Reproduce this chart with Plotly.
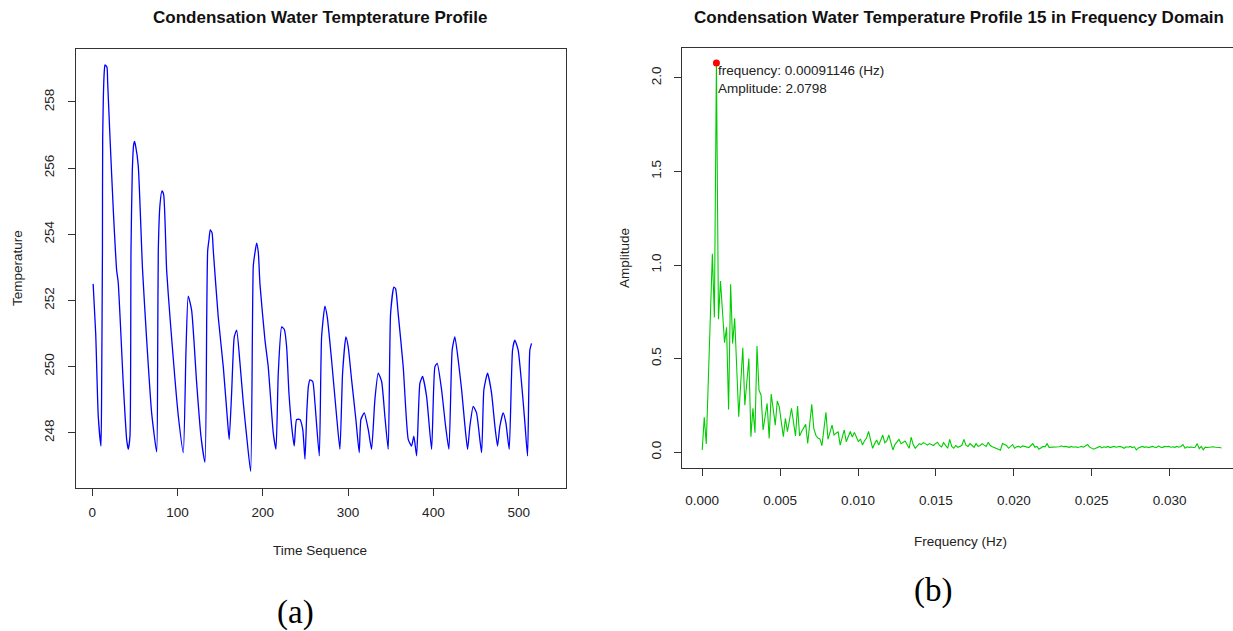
import plotly.graph_objects as go

# ---------------- data: time series (index, temperature) ----------------
seq_idx = [1, 4, 7, 10.2, 11, 11.9, 12.2, 14, 14.9, 17.2, 18, 20.8, 24.7, 28.6, 30.4, 36.3, 40.3, 42.2,
           44.2, 45.4, 46.9, 48.5, 49.5, 50.6, 53.9, 58.9, 63.8, 69.6, 75.5,
           76.7, 77.4, 79.4, 81.7, 83.7, 87.2, 91.1, 97, 100.9, 106.7,
           109.9, 112.5, 116.5, 122.4, 127.4, 132.1,
           134.2, 135.3, 136.9, 138.3, 140.4, 141.9, 147.7, 153.6, 159.4, 160.6,
           163.4, 166.5, 169.3, 173.2, 177.1, 181, 185.7,
           188.8, 190.8, 192.7, 194.7, 196.6, 202.5, 206.3, 212.2, 215.4,
           218.1, 222.1, 225.2, 227.9, 230.6, 233.8, 236.8,
           239.6, 243.5, 246.8, 249.4,
           251.5, 253.4, 255.2, 258.5, 261.1, 266.2,
           268.9, 272.8, 275.5, 280.6, 286.5, 290.4,
           293.5, 297.4, 300.1, 304.1, 309.1, 313,
           315, 318.9, 323.6, 327.5,
           331.4, 335.3, 339.3, 343.1, 347,
           349.8, 353.7, 355.7, 358.7, 364.6, 370.5, 374.4, 377.1, 380.3,
           384.2, 387.3, 392, 397.9,
           401.8, 404.5, 409.6, 414.3, 418.2,
           422, 425.2, 429.1, 433.1, 437, 440.1,
           442.8, 446.7, 450.6, 456.5,
           459.2, 463.5, 468.2, 472.1, 475.2,
           478, 481.8, 485, 488.9,
           492.8, 495.5, 499.4, 503.4, 507.3, 510.4,
           513.1, 515.1]
temperature = [252.5, 251.0, 248.5, 247.6, 249.5, 253.5, 256.9, 258.9, 259.12, 259.05, 258.6, 256.9, 254.7, 252.9, 252.55, 249.5, 247.8, 247.5,
               247.9, 253.5, 255.9, 256.7, 256.81, 256.7, 256.07, 252.94, 250.8, 248.6, 247.42,
               250.5, 253.5, 254.9, 255.31, 255.2, 252.9, 251.5, 249.6, 248.5, 247.4,
               250.5, 252.13, 251.7, 249.5, 247.9, 247.11,
               251.5, 253.5, 253.85, 254.13, 254.05, 253.5, 251.5, 250.0, 248.1, 247.8,
               249.2, 250.9, 251.1, 250.1, 248.9, 247.9, 246.83,
               253.04, 253.45, 253.73, 253.45, 252.5, 250.8, 250.0, 248.0, 247.5,
               249.8, 251.2, 251.12, 250.6, 249.2, 248.2, 247.6,
               248.4, 248.4, 248.1, 247.2,
               248.6, 249.4, 249.6, 249.55, 248.9, 247.3,
               250.9, 251.83, 251.5, 250.2, 248.5, 247.5,
               249.8, 250.9, 250.6, 249.6, 248.4, 247.4,
               248.4, 248.6, 248.1, 247.5,
               249.0, 249.8, 249.55, 248.5, 247.5,
               251.6, 252.4, 252.35, 251.6, 250.0, 247.8, 247.6, 247.9, 247.3,
               249.5, 249.7, 249.1, 247.5,
               250.0, 250.1, 249.3, 248.2, 247.5,
               250.5, 250.9, 250.2, 249.3, 248.2, 247.5,
               248.2, 248.8, 248.6, 247.4,
               249.3, 249.8, 249.2, 248.2, 247.6,
               248.2, 248.6, 248.3, 247.5,
               250.5, 250.8, 250.5, 249.5, 248.3, 247.3,
               250.5, 250.7]

# ---------------- data: amplitude spectrum ----------------
n_samples = 512
sample_interval = 15.0  # seconds
amplitude = [
    0.011, 0.186, 0.043, 0.38, 0.72, 1.06, 0.72, 2.0798, 0.71, 0.914,
    0.75, 0.585, 0.667, 0.228, 0.897, 0.58, 0.715, 0.45, 0.189, 0.37,
    0.558, 0.25, 0.37, 0.50, 0.082, 0.234, 0.103, 0.567, 0.33, 0.305,
    0.118, 0.19, 0.26, 0.073, 0.31, 0.23, 0.144, 0.273, 0.242, 0.16,
    0.082, 0.18, 0.109, 0.17, 0.234, 0.16, 0.086, 0.246, 0.086, 0.11,
    0.13, 0.148, 0.046, 0.15, 0.255, 0.127, 0.09, 0.075, 0.07, 0.034,
    0.12, 0.212, 0.068, 0.10, 0.144, 0.091, 0.10, 0.109, 0.037, 0.08,
    0.118, 0.055, 0.08, 0.11, 0.08, 0.105, 0.08, 0.055, 0.07, 0.037,
    0.06, 0.075, 0.11, 0.06, 0.02, 0.045, 0.064, 0.037, 0.06, 0.091,
    0.05, 0.06, 0.091, 0.05, 0.011, 0.04, 0.055, 0.068, 0.045, 0.05,
    0.059, 0.04, 0.02, 0.079, 0.04, 0.02, 0.035, 0.045, 0.04, 0.05,
    0.045, 0.037, 0.045, 0.04, 0.035, 0.045, 0.052, 0.035, 0.027, 0.05,
    0.035, 0.02, 0.068, 0.03, 0.02, 0.035, 0.025, 0.028, 0.035, 0.068,
    0.037, 0.03, 0.045, 0.035, 0.025, 0.045, 0.03, 0.035, 0.045, 0.037,
    0.03, 0.052, 0.035, 0.028, 0.025, 0.02, 0.015, 0.01, 0.045, 0.04,
    0.035, 0.02, 0.03, 0.04, 0.02, 0.028, 0.03, 0.025, 0.033, 0.03,
    0.028, 0.024, 0.035, 0.045, 0.025, 0.03, 0.015, 0.022, 0.03, 0.028,
    0.045, 0.025, 0.026, 0.028, 0.026, 0.03, 0.028, 0.033, 0.028, 0.03,
    0.027, 0.025, 0.03, 0.026, 0.028, 0.025, 0.027, 0.03, 0.026, 0.032,
    0.04, 0.026, 0.022, 0.015, 0.02, 0.025, 0.03, 0.022, 0.028, 0.025,
    0.03, 0.024, 0.026, 0.03, 0.026, 0.028, 0.03, 0.025, 0.02, 0.028,
    0.026, 0.03, 0.024, 0.028, 0.012, 0.022, 0.026, 0.03, 0.025, 0.028,
    0.024, 0.027, 0.03, 0.026, 0.025, 0.033, 0.026, 0.025, 0.03, 0.028,
    0.03, 0.026, 0.028, 0.025, 0.03, 0.026, 0.03, 0.04, 0.02, 0.028,
    0.025, 0.027, 0.024, 0.026, 0.045, 0.018, 0.03, 0.012, 0.026, 0.024,
    0.026, 0.025, 0.028, 0.026, 0.027, 0.024, 0.022,
]
frequency = [k / (n_samples * sample_interval) for k in range(len(amplitude))]
peak_index = amplitude.index(max(amplitude))
peak_freq = 0.00091146
peak_amp = 2.0798

x_ticks_a = [0, 100, 200, 300, 400, 500]
y_ticks_a = [248, 250, 252, 254, 256, 258]
x_ticks_b = [0.000, 0.005, 0.010, 0.015, 0.020, 0.025, 0.030]
y_ticks_b = [0.0, 0.5, 1.0, 1.5, 2.0]

W, H = 1233, 631
FONT = "Liberation Sans, Arial, sans-serif"
SERIF = "Liberation Serif, Times New Roman, serif"


def px(x):
    return x / W


def py(y):
    return 1 - y / H


fig = go.Figure()
fig.add_trace(go.Scatter(x=seq_idx, y=temperature, mode="lines",
                         line=dict(color="#0000FF", width=1.3, shape="spline", smoothing=0.5),
                         xaxis="x", yaxis="y", showlegend=False, hoverinfo="skip"))
fig.add_trace(go.Scatter(x=frequency, y=amplitude, mode="lines",
                         line=dict(color="#00CD00", width=1.1),
                         xaxis="x2", yaxis="y2", showlegend=False, hoverinfo="skip"))
fig.add_trace(go.Scatter(x=[frequency[peak_index]], y=[amplitude[peak_index]], mode="markers",
                         marker=dict(color="#FF0000", size=7),
                         xaxis="x2", yaxis="y2", showlegend=False, hoverinfo="skip"))

axis_common = dict(showgrid=False, zeroline=False, showline=True, linecolor="#333333",
                   linewidth=1, ticks="outside", ticklen=7, tickcolor="#333333",
                   tickfont=dict(family=FONT, size=13.5, color="#222222"))

fig.update_layout(
    width=W, height=H, margin=dict(l=0, r=0, t=0, b=0),
    paper_bgcolor="white", plot_bgcolor="white",
    xaxis=dict(domain=[px(76), px(566)], range=[-19.1, 555.5], tickvals=x_ticks_a,
               anchor="y", mirror=True, ticklabelstandoff=5, **axis_common),
    yaxis=dict(domain=[py(488), py(49)], range=[246.33, 259.6], tickvals=y_ticks_a,
               anchor="x", mirror=True, tickangle=-90, ticklabelstandoff=9, **axis_common),
    xaxis2=dict(domain=[px(681.5), 1.0], range=[-0.00133, 0.03407], tickvals=x_ticks_b,
                tickformat=".3f", anchor="y2", mirror=True, ticklabelstandoff=13, **axis_common),
    yaxis2=dict(domain=[py(467.6), py(47.5)], range=[-0.0832, 2.163], tickvals=y_ticks_b,
                tickformat=".1f", anchor="x2", mirror=False, tickangle=-90, ticklabelstandoff=7,
                **axis_common),
)

ann = []
ann.append(dict(text="<b>Condensation Water Tempterature Profile</b>", x=px(320), y=py(17),
                xref="paper", yref="paper", showarrow=False, xanchor="center", yanchor="middle",
                font=dict(family=FONT, size=17, color="#111111")))
ann.append(dict(text="<b>Condensation Water Temperature Profile 15 in Frequency Domain</b>",
                x=px(959), y=py(17), xref="paper", yref="paper", showarrow=False,
                xanchor="center", yanchor="middle",
                font=dict(family=FONT, size=17, color="#111111")))
ann.append(dict(text="Time Sequence", x=px(320), y=py(550), xref="paper", yref="paper",
                showarrow=False, xanchor="center", yanchor="middle",
                font=dict(family=FONT, size=13.5, color="#222222")))
ann.append(dict(text="Temperature", x=px(18), y=py(268), xref="paper", yref="paper",
                showarrow=False, xanchor="center", yanchor="middle", textangle=-90,
                font=dict(family=FONT, size=13.5, color="#222222")))
ann.append(dict(text="Frequency (Hz)", x=px(960), y=py(541), xref="paper", yref="paper",
                showarrow=False, xanchor="center", yanchor="middle",
                font=dict(family=FONT, size=13.5, color="#222222")))
ann.append(dict(text="Amplitude", x=px(625), y=py(258), xref="paper", yref="paper",
                showarrow=False, xanchor="center", yanchor="middle", textangle=-90,
                font=dict(family=FONT, size=13.5, color="#222222")))
ann.append(dict(text="frequency: %.8f (Hz)<br>Amplitude: %s" % (peak_freq, peak_amp),
                x=frequency[peak_index], y=amplitude[peak_index], xref="x2", yref="y2",
                showarrow=False, xanchor="left", yanchor="top", xshift=0, yshift=2,
                align="left", font=dict(family=FONT, size=13.5, color="#222222")))
ann.append(dict(text="(a)", x=px(295), y=py(612), xref="paper", yref="paper",
                showarrow=False, xanchor="center", yanchor="middle",
                font=dict(family=SERIF, size=33, color="#000000")))
ann.append(dict(text="(b)", x=px(933), y=py(590), xref="paper", yref="paper",
                showarrow=False, xanchor="center", yanchor="middle",
                font=dict(family=SERIF, size=33, color="#000000")))
fig.update_layout(annotations=ann)

fig.write_html("out.html")
